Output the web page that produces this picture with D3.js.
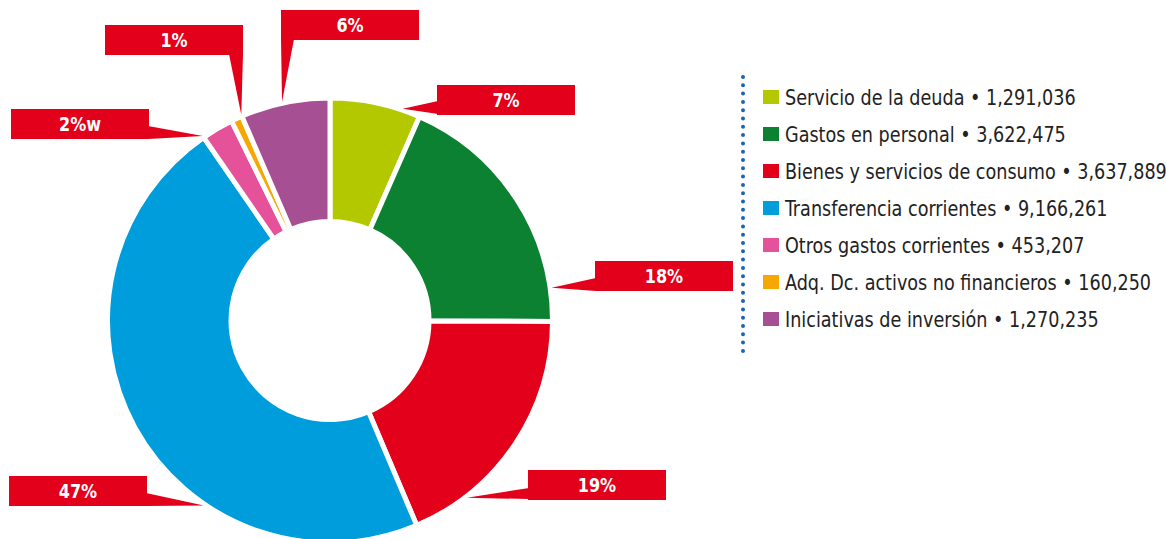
<!DOCTYPE html>
<html>
<head>
<meta charset="utf-8">
<script src="https://cdn.jsdelivr.net/npm/d3@7"></script>
<style>
  body { margin: 0; background: #fff; }
  .legend text { font-family: "DejaVu Sans Condensed", "DejaVu Sans", sans-serif; font-size: 22px; fill: #222; }
  .callout text { font-family: "DejaVu Sans Condensed", "DejaVu Sans", sans-serif; font-size: 20px; font-weight: bold; fill: #fff; }
</style>
</head>
<body>
<div id="chart"></div>
<script>
// data
var categories = ["Servicio de la deuda", "Gastos en personal", "Bienes y servicios de consumo",
                  "Transferencia corrientes", "Otros gastos corrientes",
                  "Adq. Dc. activos no financieros", "Iniciativas de inversión"];
var values = [1291036, 3622475, 3637889, 9166261, 453207, 160250, 1270235];
var pctLabels = ["7%", "18%", "19%", "47%", "2%w", "1%", "6%"];
var colors = ["#b4c800", "#0c8132", "#e2001a", "#009ddc", "#e5529a", "#f6a800", "#a64f93"];

// callout boxes (layout only): box top-left, which edge the pointer leaves from,
// base span along that edge, and where along the slice the tip lands
var callouts = [
  {x: 437, y: 85,  side: "left",   base: [16, 29],  t: 0.80},
  {x: 595, y: 261, side: "left",   base: [17, 30],  t: 0.87},
  {x: 528, y: 470, side: "left",   base: [18, 29],  t: 0.78},
  {x: 9,   y: 476, side: "right",  base: [17, 30],  t: 0.34},
  {x: 11,  y: 109, side: "right",  base: [17, 30],  t: 0.0},
  {x: 105, y: 25,  side: "bottom", base: [124, 138], t: 1.0},
  {x: 281, y: 10,  side: "bottom", base: [0, 13],   t: 0.47}
];

var width = 1166, height = 539;
var cx = 330, cy = 320.5;
var boxW = 138, boxH = 30;
var squeeze = 0.89; // no condensed font here, so narrow the glyphs a bit

var svg = d3.select("#chart").append("svg")
    .attr("width", width)
    .attr("height", height);

var pie = d3.pie().sort(null).value(function(d) { return d; });
var arcs = pie(values);

var arc = d3.arc()
    .innerRadius(99)
    .outerRadius(222.5);

var g = svg.append("g")
    .attr("transform", "translate(" + cx + "," + cy + ")");

g.selectAll("path")
    .data(arcs)
    .enter()
    .append("path")
      .attr("d", arc)
      .attr("fill", function(d, i) { return colors[i]; })
      .attr("stroke", "#fff")
      .attr("stroke-width", 5)
      .attr("stroke-linejoin", "miter");

// callouts
var tipR = 224;
var co = svg.append("g").attr("class", "callout");

arcs.forEach(function(d, i) {
    var c = callouts[i];
    var a = d.startAngle + c.t * (d.endAngle - d.startAngle);
    var tip = [cx + tipR * Math.sin(a), cy - tipR * Math.cos(a)];
    var p1, p2;
    if (c.side === "left") {
        p1 = [c.x + 1, c.y + c.base[0]]; p2 = [c.x + 1, c.y + c.base[1]];
    } else if (c.side === "right") {
        p1 = [c.x + boxW - 1, c.y + c.base[0]]; p2 = [c.x + boxW - 1, c.y + c.base[1]];
    } else {
        p1 = [c.x + c.base[0], c.y + boxH - 1]; p2 = [c.x + c.base[1], c.y + boxH - 1];
    }
    co.append("path")
        .attr("d", "M" + p1 + "L" + tip + "L" + p2 + "Z")
        .attr("fill", "#e2001a");
    co.append("rect")
        .attr("x", c.x).attr("y", c.y)
        .attr("width", boxW).attr("height", boxH)
        .attr("fill", "#e2001a");
    co.append("text")
        .attr("transform", "translate(" + (c.x + boxW / 2) + "," + (c.y + boxH / 2 + 7) + ") scale(" + squeeze + ",1)")
        .attr("text-anchor", "middle")
        .text(pctLabels[i]);
});

// legend
var fmt = d3.format(",");
var leg = svg.append("g").attr("class", "legend");

leg.append("line")
    .attr("x1", 743).attr("x2", 743)
    .attr("y1", 77).attr("y2", 354)
    .attr("stroke", "#1b64b4")
    .attr("stroke-width", 4)
    .attr("stroke-linecap", "round")
    .attr("stroke-dasharray", "0 8.3");

var row = d3.scaleLinear().domain([0, 1]).range([105, 142]);

var items = leg.selectAll(".item")
    .data(categories)
    .enter()
    .append("g")
      .attr("class", "item")
      .attr("transform", function(d, i) { return "translate(763," + row(i) + ")"; });

items.append("rect")
    .attr("x", 0).attr("y", -15)
    .attr("width", 16).attr("height", 14)
    .attr("fill", function(d, i) { return colors[i]; });

items.append("text")
    .attr("transform", "translate(22,0) scale(" + squeeze + ",1)")
    .text(function(d, i) { return d + " \u2022 " + fmt(values[i]); });
</script>
</body>
</html>
